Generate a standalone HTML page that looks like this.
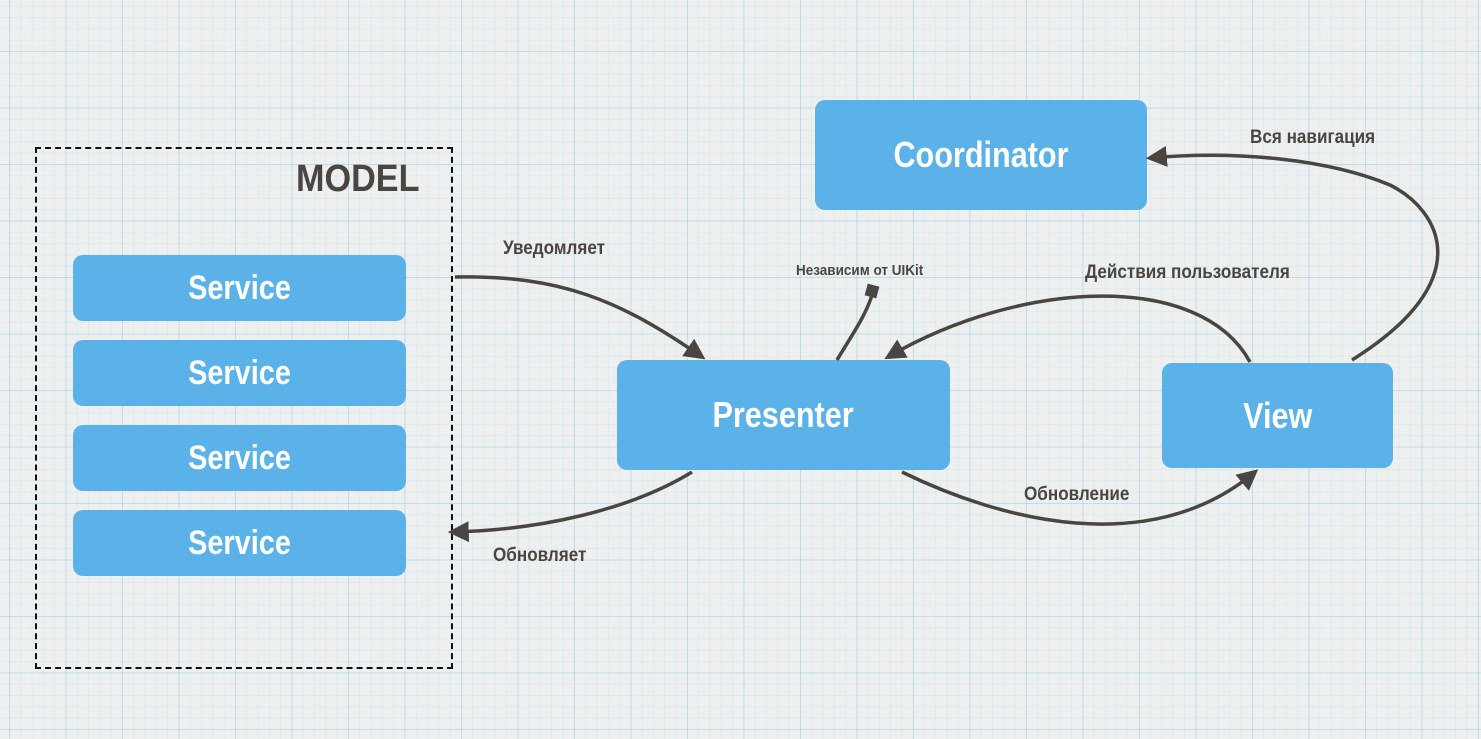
<!DOCTYPE html>
<html><head><meta charset="utf-8"><style>
html,body{margin:0;padding:0}
body{width:1481px;height:739px;overflow:hidden;background-color:#eef0f0;
background-image:
linear-gradient(90deg,rgba(140,200,230,.4) 1px,transparent 1px),
linear-gradient(0deg,rgba(140,200,230,.4) 1px,transparent 1px),
linear-gradient(90deg,rgba(170,215,235,.22) 1px,transparent 1px),
linear-gradient(0deg,rgba(170,215,235,.22) 1px,transparent 1px);
background-size:56.5px 56.5px,56.5px 56.5px,11.3px 11.3px,11.3px 11.3px;
background-position:9px 52px,9px 52px,9px 52px,9px 52px;
font-family:"Liberation Sans","DejaVu Sans",sans-serif;position:relative}
.b{position:absolute;background:#5bb2e8;border-radius:10px;color:#fff;font-weight:bold;display:flex;align-items:center;justify-content:center}
.b span{display:inline-block;transform:scaleX(.85)}
.t{position:absolute;color:#4a4540;font-weight:bold;font-size:19px;white-space:nowrap;transform:scaleX(.9);transform-origin:left}
</style></head><body>
<div style="position:absolute;left:35px;top:147px;width:414px;height:518px;border:2px dashed #111"></div>
<div class="t" style="left:296px;top:158px;font-size:38px;color:#4a4540">MODEL</div>
<div class="b" style="left:73px;top:255px;width:333px;height:66px;font-size:34px"><span>Service</span></div>
<div class="b" style="left:73px;top:340px;width:333px;height:66px;font-size:34px"><span>Service</span></div>
<div class="b" style="left:73px;top:425px;width:333px;height:66px;font-size:34px"><span>Service</span></div>
<div class="b" style="left:73px;top:510px;width:333px;height:66px;font-size:34px"><span>Service</span></div>
<div class="b" style="left:815px;top:100px;width:332px;height:110px;font-size:36px"><span>Coordinator</span></div>
<div class="b" style="left:617px;top:360px;width:333px;height:110px;font-size:36px"><span>Presenter</span></div>
<div class="b" style="left:1162px;top:363px;width:231px;height:105px;font-size:36px"><span>View</span></div>
<div class="t" style="left:503px;top:238px">Уведомляет</div>
<div class="t" style="left:796px;top:262px;font-size:15px">Независим от UIKit</div>
<div class="t" style="left:1085px;top:262px">Действия пользователя</div>
<div class="t" style="left:1250px;top:127px">Вся навигация</div>
<div class="t" style="left:1024px;top:484px">Обновление</div>
<div class="t" style="left:493px;top:545px">Обновляет</div>
<svg width="1481" height="739" style="position:absolute;left:0;top:0">
<defs><marker id="a" viewBox="0 0 10 10" refX="8" refY="5" markerWidth="6" markerHeight="6" orient="auto"><path d="M0,0L10,5L0,10z" fill="#4a4540"/></marker></defs>
<g fill="none" stroke="#4a4540" stroke-width="3.5">
<path d="M455,277 C560,275 620,300 702,357" marker-end="url(#a)"/>
<path d="M692,472 C630,510 540,530 452,532" marker-end="url(#a)"/>
<path d="M902,472 C1000,520 1150,560 1255,472" marker-end="url(#a)"/>
<path d="M1250,362 C1200,270 1020,280 888,357" marker-end="url(#a)"/>
<path d="M1352,360 C1480,280 1440,210 1390,185 C1330,160 1240,150 1150,158" marker-end="url(#a)"/>
<path d="M837,360 C852,335 866,315 872,295"/>
</g>
<rect x="866" y="285" width="12" height="12" fill="#4a4540" transform="rotate(15 872 291)"/>
</svg>
</body></html>
